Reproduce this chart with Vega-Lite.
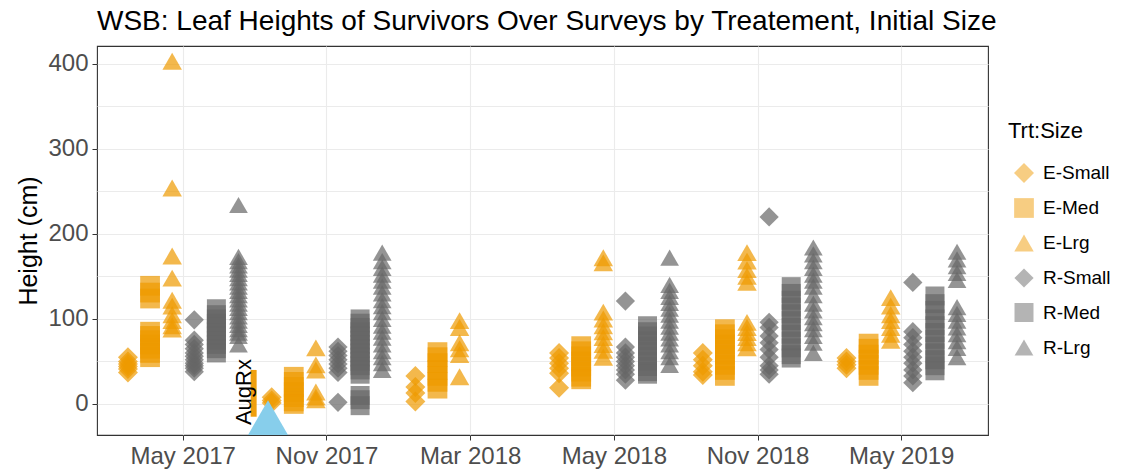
{
  "$schema": "https://vega.github.io/schema/vega-lite/v6.json",
  "width": 891,
  "height": 389,
  "autosize": "none",
  "padding": {"left": 97, "top": 46, "right": 159, "bottom": 39},
  "background": "white",
  "config": {
    "font": "Liberation Sans",
    "view": {"stroke": "#333333", "strokeWidth": 1.1}
  },
  "title": {"text": "WSB: Leaf Heights of Survivors Over Surveys by Treatement, Initial Size", "anchor": "start", "frame": "group", "offset": 10, "fontSize": 28, "fontWeight": "normal", "color": "#000000", "font": "Liberation Sans"},
  "datasets": {
    "plants": [
      {"survey":1,"group":"E-Small","height":55},{"survey":1,"group":"E-Small","height":50},{"survey":1,"group":"E-Small","height":47},{"survey":1,"group":"E-Small","height":44},{"survey":1,"group":"E-Small","height":41},{"survey":1,"group":"E-Small","height":37},
      {"survey":1,"group":"E-Med","height":139},{"survey":1,"group":"E-Med","height":131},{"survey":1,"group":"E-Med","height":124},{"survey":1,"group":"E-Med","height":85},{"survey":1,"group":"E-Med","height":80},{"survey":1,"group":"E-Med","height":75},{"survey":1,"group":"E-Med","height":70},{"survey":1,"group":"E-Med","height":65},{"survey":1,"group":"E-Med","height":60},{"survey":1,"group":"E-Med","height":55},
      {"survey":1,"group":"E-Lrg","height":403},{"survey":1,"group":"E-Lrg","height":254},{"survey":1,"group":"E-Lrg","height":174},{"survey":1,"group":"E-Lrg","height":148},{"survey":1,"group":"E-Lrg","height":122},{"survey":1,"group":"E-Lrg","height":115},{"survey":1,"group":"E-Lrg","height":105},{"survey":1,"group":"E-Lrg","height":98},{"survey":1,"group":"E-Lrg","height":92},{"survey":1,"group":"E-Lrg","height":88},
      {"survey":1,"group":"R-Small","height":99},{"survey":1,"group":"R-Small","height":75},{"survey":1,"group":"R-Small","height":70},{"survey":1,"group":"R-Small","height":65},{"survey":1,"group":"R-Small","height":60},{"survey":1,"group":"R-Small","height":56},{"survey":1,"group":"R-Small","height":52},{"survey":1,"group":"R-Small","height":48},{"survey":1,"group":"R-Small","height":45},{"survey":1,"group":"R-Small","height":42},{"survey":1,"group":"R-Small","height":38},
      {"survey":1,"group":"R-Med","height":112},{"survey":1,"group":"R-Med","height":105},{"survey":1,"group":"R-Med","height":100},{"survey":1,"group":"R-Med","height":95},{"survey":1,"group":"R-Med","height":90},{"survey":1,"group":"R-Med","height":85},{"survey":1,"group":"R-Med","height":80},{"survey":1,"group":"R-Med","height":75},{"survey":1,"group":"R-Med","height":70},{"survey":1,"group":"R-Med","height":65},{"survey":1,"group":"R-Med","height":60},
      {"survey":1,"group":"R-Lrg","height":234},{"survey":1,"group":"R-Lrg","height":173},{"survey":1,"group":"R-Lrg","height":168},{"survey":1,"group":"R-Lrg","height":163},{"survey":1,"group":"R-Lrg","height":158},{"survey":1,"group":"R-Lrg","height":153},{"survey":1,"group":"R-Lrg","height":148},{"survey":1,"group":"R-Lrg","height":143},{"survey":1,"group":"R-Lrg","height":138},{"survey":1,"group":"R-Lrg","height":133},{"survey":1,"group":"R-Lrg","height":128},{"survey":1,"group":"R-Lrg","height":123},{"survey":1,"group":"R-Lrg","height":118},{"survey":1,"group":"R-Lrg","height":113},{"survey":1,"group":"R-Lrg","height":108},{"survey":1,"group":"R-Lrg","height":103},{"survey":1,"group":"R-Lrg","height":98},{"survey":1,"group":"R-Lrg","height":93},{"survey":1,"group":"R-Lrg","height":88},{"survey":1,"group":"R-Lrg","height":84},{"survey":1,"group":"R-Lrg","height":80},{"survey":1,"group":"R-Lrg","height":70},

      {"survey":2,"group":"E-Small","height":8},{"survey":2,"group":"E-Small","height":4},{"survey":2,"group":"E-Small","height":1},
      {"survey":2,"group":"E-Med","height":32},{"survey":2,"group":"E-Med","height":26},{"survey":2,"group":"E-Med","height":20},{"survey":2,"group":"E-Med","height":14},{"survey":2,"group":"E-Med","height":8},{"survey":2,"group":"E-Med","height":3},{"survey":2,"group":"E-Med","height":0},
      {"survey":2,"group":"E-Lrg","height":66},{"survey":2,"group":"E-Lrg","height":46},{"survey":2,"group":"E-Lrg","height":40},{"survey":2,"group":"E-Lrg","height":14},{"survey":2,"group":"E-Lrg","height":8},{"survey":2,"group":"E-Lrg","height":5},
      {"survey":2,"group":"R-Small","height":67},{"survey":2,"group":"R-Small","height":62},{"survey":2,"group":"R-Small","height":57},{"survey":2,"group":"R-Small","height":52},{"survey":2,"group":"R-Small","height":47},{"survey":2,"group":"R-Small","height":42},{"survey":2,"group":"R-Small","height":37},{"survey":2,"group":"R-Small","height":2},
      {"survey":2,"group":"R-Med","height":100},{"survey":2,"group":"R-Med","height":95},{"survey":2,"group":"R-Med","height":90},{"survey":2,"group":"R-Med","height":85},{"survey":2,"group":"R-Med","height":80},{"survey":2,"group":"R-Med","height":75},{"survey":2,"group":"R-Med","height":70},{"survey":2,"group":"R-Med","height":65},{"survey":2,"group":"R-Med","height":60},{"survey":2,"group":"R-Med","height":55},{"survey":2,"group":"R-Med","height":50},{"survey":2,"group":"R-Med","height":45},{"survey":2,"group":"R-Med","height":40},{"survey":2,"group":"R-Med","height":35},{"survey":2,"group":"R-Med","height":10},{"survey":2,"group":"R-Med","height":5},{"survey":2,"group":"R-Med","height":-2},
      {"survey":2,"group":"R-Lrg","height":178},{"survey":2,"group":"R-Lrg","height":168},{"survey":2,"group":"R-Lrg","height":160},{"survey":2,"group":"R-Lrg","height":152},{"survey":2,"group":"R-Lrg","height":145},{"survey":2,"group":"R-Lrg","height":138},{"survey":2,"group":"R-Lrg","height":130},{"survey":2,"group":"R-Lrg","height":122},{"survey":2,"group":"R-Lrg","height":115},{"survey":2,"group":"R-Lrg","height":108},{"survey":2,"group":"R-Lrg","height":100},{"survey":2,"group":"R-Lrg","height":92},{"survey":2,"group":"R-Lrg","height":85},{"survey":2,"group":"R-Lrg","height":78},{"survey":2,"group":"R-Lrg","height":70},{"survey":2,"group":"R-Lrg","height":62},{"survey":2,"group":"R-Lrg","height":55},{"survey":2,"group":"R-Lrg","height":48},{"survey":2,"group":"R-Lrg","height":40},

      {"survey":3,"group":"E-Small","height":33},{"survey":3,"group":"E-Small","height":20},{"survey":3,"group":"E-Small","height":13},{"survey":3,"group":"E-Small","height":3},
      {"survey":3,"group":"E-Med","height":61},{"survey":3,"group":"E-Med","height":55},{"survey":3,"group":"E-Med","height":48},{"survey":3,"group":"E-Med","height":40},{"survey":3,"group":"E-Med","height":33},{"survey":3,"group":"E-Med","height":26},{"survey":3,"group":"E-Med","height":18},
      {"survey":3,"group":"E-Lrg","height":98},{"survey":3,"group":"E-Lrg","height":90},{"survey":3,"group":"E-Lrg","height":72},{"survey":3,"group":"E-Lrg","height":65},{"survey":3,"group":"E-Lrg","height":58},{"survey":3,"group":"E-Lrg","height":32},

      {"survey":4,"group":"E-Small","height":60},{"survey":4,"group":"E-Small","height":54},{"survey":4,"group":"E-Small","height":48},{"survey":4,"group":"E-Small","height":42},{"survey":4,"group":"E-Small","height":36},{"survey":4,"group":"E-Small","height":19},
      {"survey":4,"group":"E-Med","height":68},{"survey":4,"group":"E-Med","height":62},{"survey":4,"group":"E-Med","height":56},{"survey":4,"group":"E-Med","height":50},{"survey":4,"group":"E-Med","height":44},{"survey":4,"group":"E-Med","height":38},{"survey":4,"group":"E-Med","height":32},{"survey":4,"group":"E-Med","height":29},
      {"survey":4,"group":"E-Lrg","height":172},{"survey":4,"group":"E-Lrg","height":166},{"survey":4,"group":"E-Lrg","height":108},{"survey":4,"group":"E-Lrg","height":100},{"survey":4,"group":"E-Lrg","height":92},{"survey":4,"group":"E-Lrg","height":85},{"survey":4,"group":"E-Lrg","height":78},{"survey":4,"group":"E-Lrg","height":70},{"survey":4,"group":"E-Lrg","height":63},{"survey":4,"group":"E-Lrg","height":55},
      {"survey":4,"group":"R-Small","height":121},{"survey":4,"group":"R-Small","height":67},{"survey":4,"group":"R-Small","height":60},{"survey":4,"group":"R-Small","height":55},{"survey":4,"group":"R-Small","height":50},{"survey":4,"group":"R-Small","height":45},{"survey":4,"group":"R-Small","height":40},{"survey":4,"group":"R-Small","height":35},{"survey":4,"group":"R-Small","height":28},
      {"survey":4,"group":"R-Med","height":92},{"survey":4,"group":"R-Med","height":85},{"survey":4,"group":"R-Med","height":80},{"survey":4,"group":"R-Med","height":74},{"survey":4,"group":"R-Med","height":68},{"survey":4,"group":"R-Med","height":62},{"survey":4,"group":"R-Med","height":56},{"survey":4,"group":"R-Med","height":50},{"survey":4,"group":"R-Med","height":44},{"survey":4,"group":"R-Med","height":38},{"survey":4,"group":"R-Med","height":35},
      {"survey":4,"group":"R-Lrg","height":172},{"survey":4,"group":"R-Lrg","height":140},{"survey":4,"group":"R-Lrg","height":133},{"survey":4,"group":"R-Lrg","height":126},{"survey":4,"group":"R-Lrg","height":119},{"survey":4,"group":"R-Lrg","height":112},{"survey":4,"group":"R-Lrg","height":105},{"survey":4,"group":"R-Lrg","height":98},{"survey":4,"group":"R-Lrg","height":91},{"survey":4,"group":"R-Lrg","height":84},{"survey":4,"group":"R-Lrg","height":77},{"survey":4,"group":"R-Lrg","height":70},{"survey":4,"group":"R-Lrg","height":62},{"survey":4,"group":"R-Lrg","height":55},{"survey":4,"group":"R-Lrg","height":46},

      {"survey":5,"group":"E-Small","height":60},{"survey":5,"group":"E-Small","height":52},{"survey":5,"group":"E-Small","height":45},{"survey":5,"group":"E-Small","height":38},{"survey":5,"group":"E-Small","height":34},
      {"survey":5,"group":"E-Med","height":88},{"survey":5,"group":"E-Med","height":82},{"survey":5,"group":"E-Med","height":76},{"survey":5,"group":"E-Med","height":70},{"survey":5,"group":"E-Med","height":64},{"survey":5,"group":"E-Med","height":58},{"survey":5,"group":"E-Med","height":52},{"survey":5,"group":"E-Med","height":46},{"survey":5,"group":"E-Med","height":40},{"survey":5,"group":"E-Med","height":33},
      {"survey":5,"group":"E-Lrg","height":178},{"survey":5,"group":"E-Lrg","height":168},{"survey":5,"group":"E-Lrg","height":158},{"survey":5,"group":"E-Lrg","height":150},{"survey":5,"group":"E-Lrg","height":143},{"survey":5,"group":"E-Lrg","height":96},{"survey":5,"group":"E-Lrg","height":90},{"survey":5,"group":"E-Lrg","height":84},{"survey":5,"group":"E-Lrg","height":78},{"survey":5,"group":"E-Lrg","height":72},{"survey":5,"group":"E-Lrg","height":66},
      {"survey":5,"group":"R-Small","height":220},{"survey":5,"group":"R-Small","height":96},{"survey":5,"group":"R-Small","height":90},{"survey":5,"group":"R-Small","height":80},{"survey":5,"group":"R-Small","height":72},{"survey":5,"group":"R-Small","height":64},{"survey":5,"group":"R-Small","height":55},{"survey":5,"group":"R-Small","height":45},{"survey":5,"group":"R-Small","height":40},{"survey":5,"group":"R-Small","height":35},
      {"survey":5,"group":"R-Med","height":138},{"survey":5,"group":"R-Med","height":130},{"survey":5,"group":"R-Med","height":122},{"survey":5,"group":"R-Med","height":114},{"survey":5,"group":"R-Med","height":106},{"survey":5,"group":"R-Med","height":98},{"survey":5,"group":"R-Med","height":90},{"survey":5,"group":"R-Med","height":82},{"survey":5,"group":"R-Med","height":74},{"survey":5,"group":"R-Med","height":66},{"survey":5,"group":"R-Med","height":58},{"survey":5,"group":"R-Med","height":54},
      {"survey":5,"group":"R-Lrg","height":184},{"survey":5,"group":"R-Lrg","height":176},{"survey":5,"group":"R-Lrg","height":168},{"survey":5,"group":"R-Lrg","height":160},{"survey":5,"group":"R-Lrg","height":152},{"survey":5,"group":"R-Lrg","height":145},{"survey":5,"group":"R-Lrg","height":138},{"survey":5,"group":"R-Lrg","height":128},{"survey":5,"group":"R-Lrg","height":118},{"survey":5,"group":"R-Lrg","height":110},{"survey":5,"group":"R-Lrg","height":102},{"survey":5,"group":"R-Lrg","height":95},{"survey":5,"group":"R-Lrg","height":88},{"survey":5,"group":"R-Lrg","height":80},{"survey":5,"group":"R-Lrg","height":72},{"survey":5,"group":"R-Lrg","height":60},

      {"survey":6,"group":"E-Small","height":54},{"survey":6,"group":"E-Small","height":50},{"survey":6,"group":"E-Small","height":46},{"survey":6,"group":"E-Small","height":42},
      {"survey":6,"group":"E-Med","height":71},{"survey":6,"group":"E-Med","height":65},{"survey":6,"group":"E-Med","height":58},{"survey":6,"group":"E-Med","height":52},{"survey":6,"group":"E-Med","height":46},{"survey":6,"group":"E-Med","height":40},{"survey":6,"group":"E-Med","height":33},
      {"survey":6,"group":"E-Lrg","height":125},{"survey":6,"group":"E-Lrg","height":115},{"survey":6,"group":"E-Lrg","height":105},{"survey":6,"group":"E-Lrg","height":98},{"survey":6,"group":"E-Lrg","height":90},{"survey":6,"group":"E-Lrg","height":82},{"survey":6,"group":"E-Lrg","height":75},
      {"survey":6,"group":"R-Small","height":143},{"survey":6,"group":"R-Small","height":85},{"survey":6,"group":"R-Small","height":78},{"survey":6,"group":"R-Small","height":70},{"survey":6,"group":"R-Small","height":62},{"survey":6,"group":"R-Small","height":55},{"survey":6,"group":"R-Small","height":48},{"survey":6,"group":"R-Small","height":40},{"survey":6,"group":"R-Small","height":33},{"survey":6,"group":"R-Small","height":25},
      {"survey":6,"group":"R-Med","height":127},{"survey":6,"group":"R-Med","height":118},{"survey":6,"group":"R-Med","height":110},{"survey":6,"group":"R-Med","height":100},{"survey":6,"group":"R-Med","height":92},{"survey":6,"group":"R-Med","height":84},{"survey":6,"group":"R-Med","height":76},{"survey":6,"group":"R-Med","height":68},{"survey":6,"group":"R-Med","height":60},{"survey":6,"group":"R-Med","height":52},{"survey":6,"group":"R-Med","height":45},{"survey":6,"group":"R-Med","height":39},
      {"survey":6,"group":"R-Lrg","height":179},{"survey":6,"group":"R-Lrg","height":170},{"survey":6,"group":"R-Lrg","height":162},{"survey":6,"group":"R-Lrg","height":154},{"survey":6,"group":"R-Lrg","height":146},{"survey":6,"group":"R-Lrg","height":114},{"survey":6,"group":"R-Lrg","height":106},{"survey":6,"group":"R-Lrg","height":98},{"survey":6,"group":"R-Lrg","height":90},{"survey":6,"group":"R-Lrg","height":82},{"survey":6,"group":"R-Lrg","height":74},{"survey":6,"group":"R-Lrg","height":66},{"survey":6,"group":"R-Lrg","height":55}
    ],
    "aug": [
      {"pos": 1.59, "height": -16, "bar_lo": -15, "bar_hi": 40, "bar_x": 1.49, "text_x": 1.42, "text_y": 14, "label": "AugRx"}
    ]
  },
  "layer": [
    {
      "data": {"name": "plants"},
      "mark": {"type": "point", "filled": true, "opacity": 0.7, "strokeWidth": 0, "clip": true},
      "encoding": {
        "x": {"field": "survey", "type": "ordinal",
          "scale": {"type": "band", "domain": [1, 2, 3, 4, 5, 6], "paddingInner": 0, "paddingOuter": 0.1},
          "axis": {"title": null, "bandPosition": 0.5, "labelAngle": 0,
            "labelExpr": "['May 2017','Nov 2017','Mar 2018','May 2018','Nov 2018','May 2019'][datum.value - 1]",
            "labelFontSize": 24, "labelColor": "#4D4D4D", "labelFont": "Liberation Sans", "labelPadding": 4,
            "tickSize": 5, "tickColor": "#333333", "domain": false,
            "grid": true, "gridColor": "#EBEBEB", "gridWidth": 1.1}},
        "xOffset": {"field": "group", "type": "nominal",
          "scale": {"domain": ["E-Small", "E-Med", "E-Lrg", "R-Small", "R-Med", "R-Lrg"], "paddingInner": 0, "paddingOuter": 0.75}},
        "y": {"field": "height", "type": "quantitative",
          "scale": {"domain": [-36.5, 421], "nice": false, "zero": false},
          "axis": {"title": "Height (cm)", "titleFontSize": 25, "titleFontWeight": "normal", "titleColor": "#000000", "titleFont": "Liberation Sans", "titlePadding": 6,
            "values": [0, 50, 100, 150, 200, 250, 300, 350, 400],
            "labelExpr": "datum.value % 100 === 0 ? datum.label : ''",
            "labelFontSize": 24, "labelColor": "#4D4D4D", "labelFont": "Liberation Sans", "labelPadding": 4,
            "tickSize": 5, "tickColor": "#333333",
            "tickOpacity": {"condition": {"test": "datum.value % 100 !== 0", "value": 0}, "value": 1},
            "domain": false, "grid": true, "gridColor": "#EBEBEB", "gridWidth": 1.1}},
        "color": {"field": "group", "type": "nominal",
          "scale": {"domain": ["E-Small", "E-Med", "E-Lrg", "R-Small", "R-Med", "R-Lrg"], "range": ["#EE9A00", "#EE9A00", "#EE9A00", "#666666", "#666666", "#666666"]},
          "legend": {"title": "Trt:Size", "orient": "none", "legendX": 911, "legendY": 75,
            "titleFontSize": 22, "titleFontWeight": "normal", "titleColor": "#000000", "titleFont": "Liberation Sans", "titlePadding": 20,
            "labelFontSize": 19, "labelColor": "#000000", "labelFont": "Liberation Sans", "labelOffset": 9, "symbolOffset": 6,
            "symbolOpacity": 0.7, "symbolStrokeWidth": 0, "rowPadding": 15}},
        "shape": {"field": "group", "type": "nominal",
          "scale": {"domain": ["E-Small", "E-Med", "E-Lrg", "R-Small", "R-Med", "R-Lrg"], "range": ["diamond", "square", "triangle-up", "diamond", "square", "triangle-up"]},
          "legend": {"title": "Trt:Size", "orient": "none", "legendX": 911, "legendY": 75}},
        "size": {"field": "group", "type": "nominal",
          "scale": {"domain": ["E-Small", "E-Med", "E-Lrg", "R-Small", "R-Med", "R-Lrg"], "range": [400, 350, 530, 400, 350, 530]},
          "legend": {"title": "Trt:Size", "orient": "none", "legendX": 911, "legendY": 75}}
      }
    },
    {
      "data": {"name": "aug"},
      "layer": [
        {
          "mark": {"type": "rule", "color": "#EE9A00", "strokeWidth": 6, "opacity": 0.95, "clip": true},
          "encoding": {
            "x": {"field": "bar_x", "type": "quantitative", "scale": {"domain": [0.4, 6.6], "nice": false, "zero": false}, "axis": null},
            "y": {"field": "bar_lo", "type": "quantitative"},
            "y2": {"field": "bar_hi"}
          }
        },
        {
          "mark": {"type": "text", "angle": 270, "fontSize": 22, "color": "#000000", "font": "Liberation Sans", "align": "center", "baseline": "middle"},
          "encoding": {
            "x": {"field": "text_x", "type": "quantitative", "axis": null},
            "y": {"field": "text_y", "type": "quantitative"},
            "text": {"field": "label"}
          }
        },
        {
          "mark": {"type": "point", "shape": "triangle-up", "filled": true, "color": "#87CEEB", "opacity": 1, "size": 1600, "strokeWidth": 0, "clip": true},
          "encoding": {
            "x": {"field": "pos", "type": "quantitative", "axis": null},
            "y": {"field": "height", "type": "quantitative"}
          }
        }
      ]
    }
  ],
  "resolve": {"scale": {"x": "independent"}, "axis": {"x": "independent"}}
}
